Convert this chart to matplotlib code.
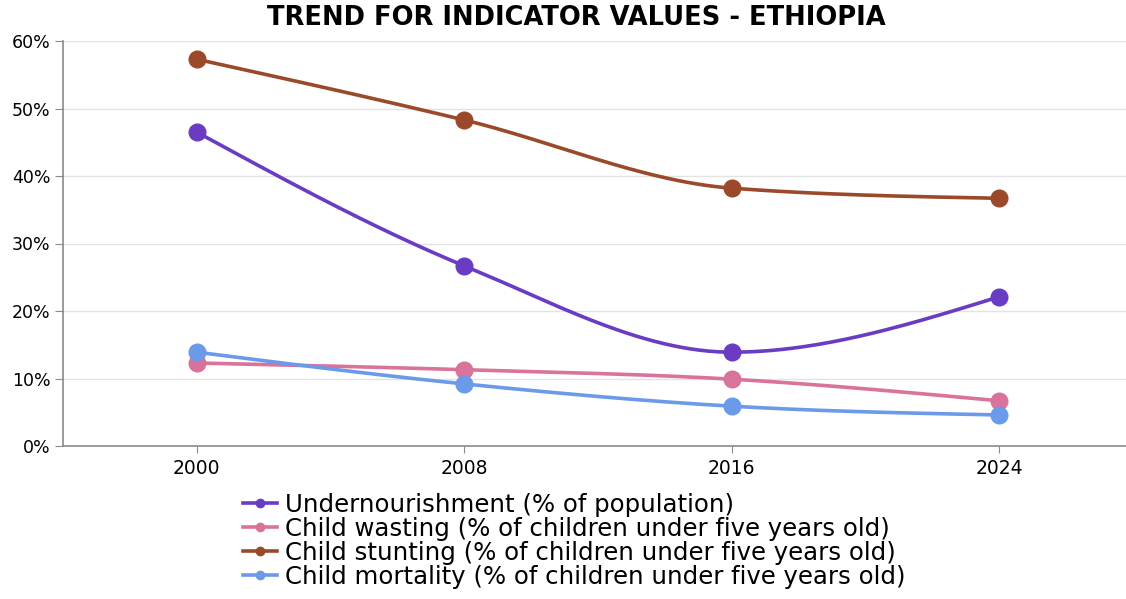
import matplotlib
matplotlib.use('Agg')
import matplotlib.pyplot as plt
from matplotlib.lines import Line2D
import numpy as np

years = [2000, 2008, 2016, 2024]
undernourishment = [46.5, 26.7, 13.9, 22.1]
wasting = [12.3, 11.3, 9.9, 6.7]
stunting = [57.3, 48.3, 38.2, 36.7]
mortality = [13.9, 9.2, 5.9, 4.6]

labels = ['Undernourishment (% of population)',
          'Child wasting (% of children under five years old)',
          'Child stunting (% of children under five years old)',
          'Child mortality (% of children under five years old)']
colors = ['#6a3cc4', '#d9739b', '#9a4a2a', '#6a9ae8']

plt.rcParams['font.family'] = ['DejaVu Sans']


def monotone_curve(x, y, n=60):
    # d3 style monotoneX interpolation, only used for the line shape
    x = np.asarray(x, float)
    y = np.asarray(y, float)
    h = np.diff(x)
    s = np.diff(y) / h
    t = np.zeros(len(x))
    for i in range(1, len(x) - 1):
        p = (s[i - 1] * h[i] + s[i] * h[i - 1]) / (h[i - 1] + h[i])
        t[i] = (np.sign(s[i - 1]) + np.sign(s[i])) * min(abs(s[i - 1]), abs(s[i]), 0.5 * abs(p))
    t[0] = (3 * s[0] - t[1]) / 2
    t[-1] = (3 * s[-1] - t[-2]) / 2
    xs, ys = [], []
    for i in range(len(x) - 1):
        u = np.linspace(0, 1, n)
        h00 = 2 * u**3 - 3 * u**2 + 1
        h10 = u**3 - 2 * u**2 + u
        h01 = -2 * u**3 + 3 * u**2
        h11 = u**3 - u**2
        xs.extend(x[i] + u * h[i])
        ys.extend(h00 * y[i] + h10 * h[i] * t[i] + h01 * y[i + 1] + h11 * h[i] * t[i + 1])
    return xs, ys


fig = plt.figure(figsize=(11.26, 5.99), dpi=100)
ax = fig.add_axes([63 / 1126, 1 - 446 / 599, 1 - 63 / 1126, (446 - 41) / 599])

series = [undernourishment, wasting, stunting, mortality]
for vals, c in zip(series, colors):
    cx, cy = monotone_curve(years, vals)
    ax.plot(cx, cy, color=c, lw=2.6, solid_capstyle='round', zorder=3)
    ax.plot(years, vals, 'o', color=c, ms=12, zorder=4)

ax.set_xlim(1996, 2027.8)
ax.set_ylim(0, 60)
ax.set_xticks(years)
ax.set_xticklabels([str(y) for y in years])
ax.set_yticks(range(0, 61, 10))
ax.set_yticklabels([f'{v}%' for v in range(0, 61, 10)])
ax.grid(axis='y', color='#e3e3e3', lw=1)
ax.set_axisbelow(True)
for side in ['top', 'right']:
    ax.spines[side].set_visible(False)
for side in ['left', 'bottom']:
    ax.spines[side].set_color('#8a8a8a')
    ax.spines[side].set_linewidth(1.2)
ax.tick_params(axis='y', length=6, color='#8a8a8a', labelsize=12.5, pad=3)
ax.tick_params(axis='x', length=5, color='#8a8a8a', labelsize=13.5, pad=4)

fig.text(0.512, 1 - 18 / 599, 'TREND FOR INDICATOR VALUES - ETHIOPIA', ha='center', va='center',
         fontsize=18.5, fontweight='bold', color='black')

handles = [Line2D([0], [0], color=c, lw=2.6, marker='o', ms=6) for c in colors]
fig.legend(handles, labels, loc='upper left', bbox_to_anchor=(243 / 1126, 1 - 493 / 599),
           frameon=False, fontsize=17.6, handlelength=1.4, handletextpad=0.3,
           labelspacing=0.0, borderaxespad=0, borderpad=0)

fig.savefig('out.png', dpi=100)
